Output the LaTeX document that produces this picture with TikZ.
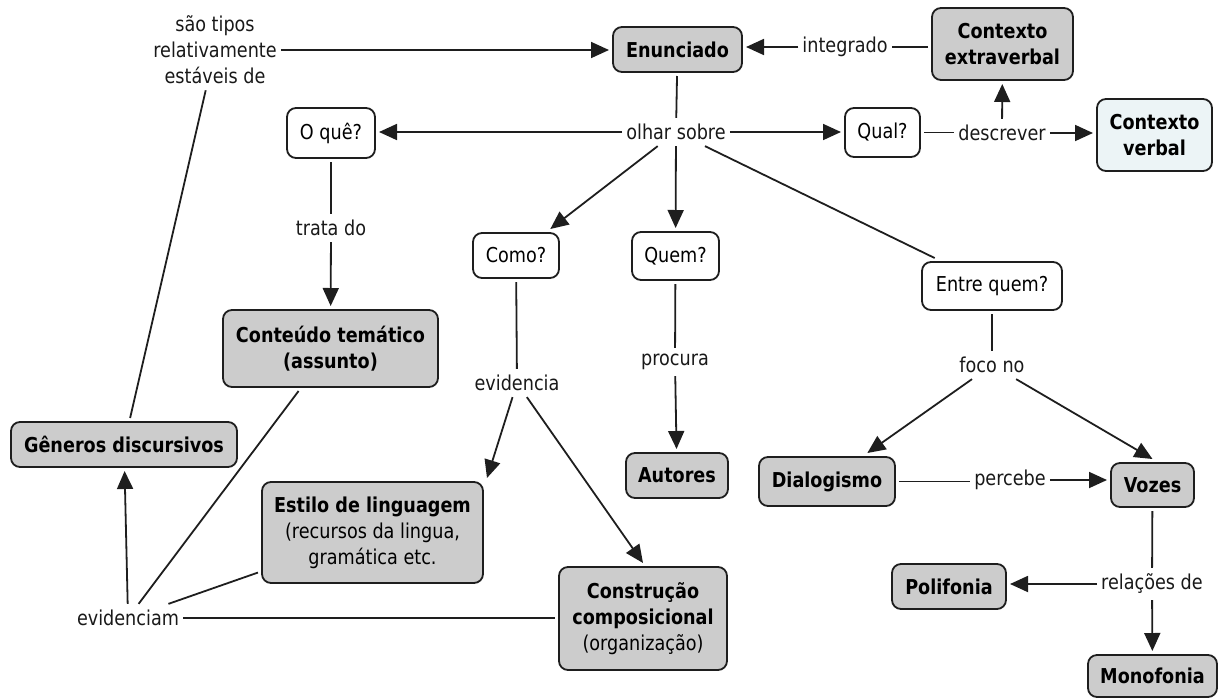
\documentclass[tikz,border=0pt]{standalone}
\usepackage{fontspec}
\setmainfont{DejaVu Sans}[FakeStretch=0.86]
\usetikzlibrary{arrows.meta}
\definecolor{boxgray}{RGB}{204,204,204}
\definecolor{verbalfill}{RGB}{236,244,246}
\definecolor{linecol}{RGB}{30,30,30}
\begin{document}
\begin{tikzpicture}[x=1pt,y=-1pt,
  every node/.style={font=\fontsize{20.5pt}{26pt}\selectfont, align=center},
  concept/.style={draw=linecol, line width=1.8pt, rounded corners=9pt, fill=boxgray, outer sep=4pt, inner sep=2pt, font=\fontsize{20.5pt}{26pt}\selectfont\bfseries},
  question/.style={concept, fill=white, font=\fontsize{20.5pt}{26pt}\selectfont},
  linklabel/.style={inner xsep=4pt, inner ysep=6pt, text=black!90},
  conn/.style={draw=linecol, line width=1.8pt},
  arr/.style={conn, -{Triangle[length=18pt,width=16pt]}},
]
\useasboundingbox (0,0) rectangle (1218,697);

% concepts
\node[concept, minimum width=129pt, minimum height=45pt] (enun) at (677.5,49.5) {Enunciado};
\node[concept, minimum width=141pt, minimum height=72pt] (extra) at (1002.5,44) {Contexto\\extraverbal};
\node[concept, fill=verbalfill, minimum width=115pt, minimum height=72pt] (verbal) at (1154.5,135) {Contexto\\verbal};
\node[question, minimum width=88pt, minimum height=50pt] (oque) at (331,133) {O quê?};
\node[question, minimum width=75pt, minimum height=49pt] (qual) at (882.5,132.5) {Qual?};
\node[question, minimum width=86pt, minimum height=45pt] (como) at (516,255.5) {Como?};
\node[question, minimum width=87pt, minimum height=48pt] (quem) at (675.5,256) {Quem?};
\node[question, minimum width=140pt, minimum height=48pt] (entre) at (992,286) {Entre quem?};
\node[concept, minimum width=215pt, minimum height=77pt] (conteudo) at (330.5,348.5) {Conteúdo temático\\(assunto)};
\node[concept, minimum width=226pt, minimum height=45pt] (generos) at (124,444.5) {Gêneros discursivos};
\node[concept, minimum width=221pt, minimum height=101pt] (estilo) at (372.5,532.5) {Estilo de linguagem\\{\mdseries (recursos da lingua,}\\{\mdseries gramática etc.}};
\node[concept, minimum width=168pt, minimum height=103pt] (constru) at (643,618.5) {Construção\\composicional\\{\mdseries (organização)}};
\node[concept, minimum width=102pt, minimum height=45pt] (autores) at (677,475.5) {Autores};
\node[concept, minimum width=136pt, minimum height=49pt] (dialog) at (827,481.5) {Dialogismo};
\node[concept, minimum width=83pt, minimum height=44pt] (vozes) at (1152.5,485) {Vozes};
\node[concept, minimum width=114pt, minimum height=45pt] (polif) at (949,586.5) {Polifonia};
\node[concept, minimum width=129pt, minimum height=42pt] (monof) at (1152.5,676) {Monofonia};

% linking phrases
\node[linklabel] (tipos) at (215,50) {são tipos\\relativamente\\estáveis de};
\node[linklabel] (integ) at (845,47) {integrado};
\node[linklabel] (olhar) at (676,132) {olhar sobre};
\node[linklabel] (descr) at (1002,133) {descrever};
\node[linklabel] (trata) at (331,228) {trata do};
\node[linklabel] (evid) at (517,383) {evidencia};
\node[linklabel] (procura) at (675,362) {procura};
\node[linklabel] (foco) at (992,365) {foco no};
\node[linklabel] (percebe) at (1010,480) {percebe};
\node[linklabel] (relacoes) at (1152,584) {relações de};
\node[linklabel] (evidenciam) at (128,618) {evidenciam};

% connectors
\draw[conn] (generos) -- (tipos);
\draw[arr] (tipos.east) -- (tipos.east -| enun.west);
\draw[conn] (extra.west |- integ.east) -- (integ.east);
\draw[arr] (integ.west) -- (integ.west -| enun.east);
\draw[conn] (enun) -- (olhar);
\draw[arr] (olhar.west) -- (olhar.west -| oque.east);
\draw[arr] (olhar.east) -- (olhar.east -| qual.west);
\draw[arr] (olhar) -- (como);
\draw[arr] (olhar) -- (quem);
\draw[conn] (olhar) -- (entre);
\draw[conn] (qual.east) -- (qual.east -| descr.west);
\draw[arr] (descr.east) -- (descr.east -| verbal.west);
\draw[arr] (descr) -- (extra);
\draw[conn] (oque) -- (trata);
\draw[arr] (trata) -- (conteudo);
\draw[conn] (como) -- (evid);
\draw[arr] (evid) -- (estilo.north east);
\draw[arr] (evid) -- (constru.north);
\draw[conn] (quem) -- (procura);
\draw[arr] (procura) -- (autores);
\draw[conn] (entre) -- (foco);
\draw[arr] (foco) -- (dialog);
\draw[arr] (foco) -- (vozes.north);
\draw[conn] (dialog.east) -- (dialog.east -| percebe.west);
\draw[arr] (percebe.east) -- (percebe.east -| vozes.west);
\draw[conn] (vozes) -- (relacoes);
\draw[arr] (relacoes.west) -- (relacoes.west -| polif.east);
\draw[arr] (relacoes) -- (monof);
\draw[arr] (evidenciam) -- (generos);
\draw[conn] (evidenciam) -- (conteudo);
\draw[conn] (evidenciam) -- (estilo);
\draw[conn] (evidenciam.east) -- (evidenciam.east -| constru.west);
\end{tikzpicture}
\end{document}
